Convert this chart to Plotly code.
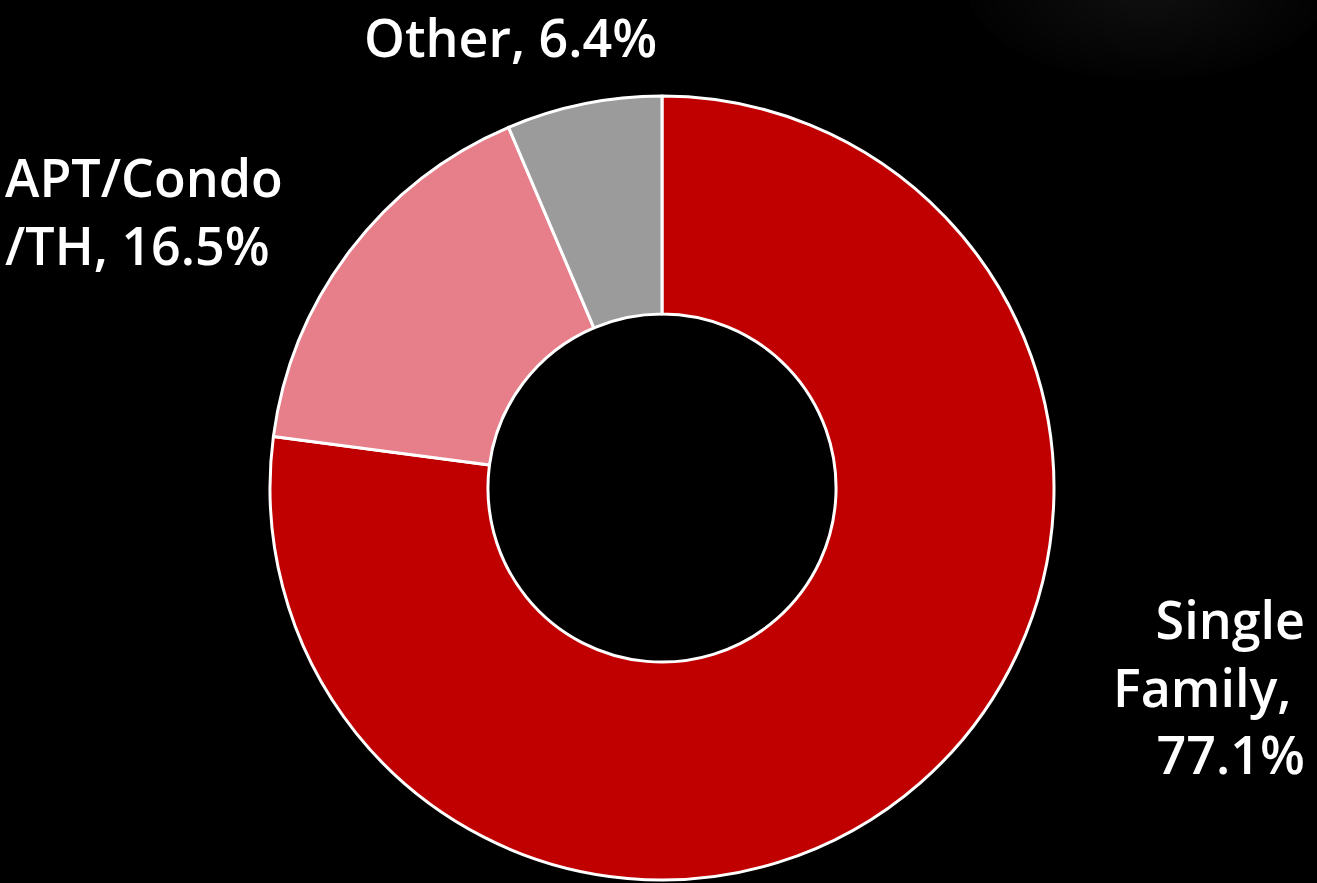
import plotly.graph_objects as go

# Housing type shares (percent)
categories = ["Single Family", "APT/Condo/TH", "Other"]
shares = [77.1, 16.5, 6.4]
label_text = ["Single<br>Family,&nbsp;<br>77.1%", "APT/Condo<br>/TH, 16.5%", "Other, 6.4%"]
colors = ["#C00000", "#E67F89", "#9B9B9B"]

W, H = 1317, 883
cx, cy, r = 662, 488, 392  # donut centre and outer radius in pixels

fig = go.Figure(
    go.Pie(
        labels=categories,
        values=shares,
        hole=0.444,
        sort=False,
        direction="clockwise",
        rotation=0,
        textinfo="none",
        hoverinfo="label+percent",
        marker=dict(colors=colors, line=dict(color="white", width=3)),
        domain=dict(
            x=[(cx - r) / W, (cx + r) / W],
            y=[(H - cy - r) / H, (H - cy + r) / H],
        ),
        showlegend=False,
    )
)

# soft glow near the top-right corner of the background
glow = []
n = 14
for i in range(n):
    rad = 150 * (1 - i / n)
    glow.append(dict(
        type="circle", xref="paper", yref="paper", layer="below",
        x0=(1148 - rad * 1.2) / W, x1=(1148 + rad * 1.2) / W,
        y0=(H + 10 - rad * 0.6) / H, y1=(H + 10 + rad * 0.6) / H,
        fillcolor="rgba(255,255,255,0.007)", line=dict(width=0),
    ))

font = dict(family="Open Sans, Arial, sans-serif", size=52, color="white", weight=600)
annotations = [
    dict(text=label_text[2], x=510 / W, y=1.0, xanchor="center", yanchor="top",
         align="center", borderpad=0),
    dict(text=label_text[1], x=3 / W, y=1 - 210 / H, xanchor="left", yanchor="middle",
         align="left"),
    dict(text=label_text[0], x=1307 / W, y=1 - 686 / H, xanchor="right", yanchor="middle",
         align="right"),
]
for a in annotations:
    a.update(xref="paper", yref="paper", showarrow=False, font=font)

fig.update_layout(
    width=W, height=H,
    margin=dict(l=0, r=0, t=0, b=0),
    paper_bgcolor="black",
    plot_bgcolor="black",
    annotations=annotations,
    shapes=glow,
)

fig.write_html("out.html", config={"displayModeBar": False})
